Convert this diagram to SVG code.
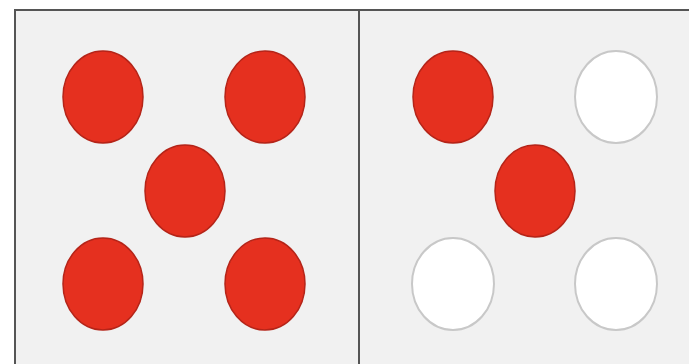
<svg xmlns="http://www.w3.org/2000/svg" width="689" height="364" viewBox="0 0 689 364">
<style>
.panel{fill:#f1f1f1;stroke:#555;stroke-width:2}
.red{fill:#e5301f;stroke:#b52418;stroke-width:1.5}
.white{fill:#ffffff;stroke:#c8c8c8;stroke-width:2}
</style>
<rect width="689" height="364" fill="#ffffff"/>
<g id="left-panel">
<rect class="panel" x="15" y="10" width="344" height="360"/>
<ellipse class="red" cx="103" cy="97" rx="40" ry="46"/>
<ellipse class="red" cx="265" cy="97" rx="40" ry="46"/>
<ellipse class="red" cx="185" cy="191" rx="40" ry="46"/>
<ellipse class="red" cx="103" cy="284" rx="40" ry="46"/>
<ellipse class="red" cx="265" cy="284" rx="40" ry="46"/>
</g>
<g id="right-panel">
<rect class="panel" x="359" y="10" width="340" height="360"/>
<ellipse class="red" cx="453" cy="97" rx="40" ry="46"/>
<ellipse class="white" cx="616" cy="97" rx="41" ry="46"/>
<ellipse class="red" cx="535" cy="191" rx="40" ry="46"/>
<ellipse class="white" cx="453" cy="284" rx="41" ry="46"/>
<ellipse class="white" cx="616" cy="284" rx="41" ry="46"/>
</g>
</svg>
